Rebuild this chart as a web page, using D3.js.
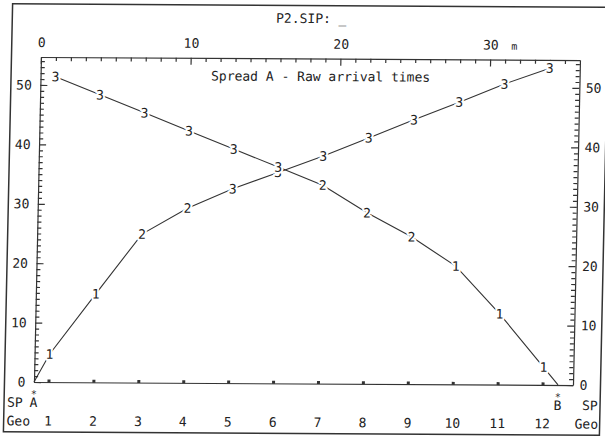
<!DOCTYPE html>
<html>
<head>
<meta charset="utf-8">
<script src="https://cdn.jsdelivr.net/npm/d3@7"></script>
<style>
body { margin:0; background:#fff; }
svg { display:block; }
text { font-family:"DejaVu Sans Mono", "Liberation Mono", monospace; font-size:13px; fill:#222; }
.axis path, .axis line { stroke:#333; stroke-width:1.2; }
.curve { fill:none; stroke:#333; stroke-width:1.1; }
.layer-label { stroke:#fff; stroke-width:4; paint-order:stroke; stroke-linejoin:round; }
</style>
</head>
<body>
<div class="sip-wrapper"></div>
<script>

const geoNumbers = [1, 2, 3, 4, 5, 6, 7, 8, 9, 10, 11, 12];
const geoOffsets = [1, 4, 7, 10, 13, 16, 19, 22, 25, 28, 31, 34];
const shotNames = ['A', 'B'];
const shotOffsets = [0, 35];

// arrival times (ms) from shot A and shot B, with the layer digit printed on each pick
const timesA = [4.7, 14.9, 25.0, 29.4, 32.7, 35.5, 38.3, 41.4, 44.5, 47.5, 50.6, 53.3];
const layersA = [1, 1, 2, 2, 3, 3, 3, 3, 3, 3, 3, 3];
const timesB = [51.4, 48.4, 45.4, 42.4, 39.4, 36.4, 33.4, 28.8, 24.8, 19.9, 11.9, 3.0];
const layersB = [3, 3, 3, 3, 3, 3, 2, 2, 2, 1, 1, 1];

const distTicks = [0, 10, 20, 30];
const timeTicks = [0, 10, 20, 30, 40, 50];

const fileTitle = 'P2.SIP: _';
const plotTitle = 'Spread A - Raw arrival times';

const width = 605;
const height = 440;

const box = {left:37.5, right:576.5, top:58.5, bottom:383.5}

const svg = d3.select('.sip-wrapper')
.append('svg')
.attr('width', width)
.attr('height', height)

// the printout was scanned slightly skewed
const chart = svg.append('g')
.attr('transform', 'matrix(1,0.0056,-0.0215,1,4.73,-1.69)')

chart.append('rect')
.attr('x', 8)
.attr('y', 5.5)
.attr('width', 596)
.attr('height', 428)
.style('fill', 'none')
.style('stroke', '#333')
.style('stroke-width', 1.5)

const xScale = d3.scaleLinear()
.domain([0, 36])
.range([box.left, box.right])

const yScale = d3.scaleLinear()
.domain([0, 54.7])
.range([box.bottom, box.top])

const topAxis = chart.append('g')
.attr('class', 'axis')
.attr('transform', `translate(0,${box.top})`)
.call(
	d3.axisTop(xScale)
	.tickValues(d3.range(0, 36))
	.tickSizeInner(-4)
	.tickSizeOuter(0)
	.tickPadding(10)
	.tickFormat(d => distTicks.includes(d) ? d : '')
	)

topAxis.selectAll('.tick line')
.attr('y2', d => distTicks.includes(d) ? 7 : 4)

const leftAxis = chart.append('g')
.attr('class', 'axis')
.attr('transform', `translate(${box.left},0)`)
.call(
	d3.axisLeft(yScale)
	.tickValues(d3.range(0, 55))
	.tickSizeInner(-4)
	.tickSizeOuter(0)
	.tickPadding(8.5)
	.tickFormat(d => timeTicks.includes(d) ? d : '')
	)

leftAxis.selectAll('.tick line')
.attr('x2', d => timeTicks.includes(d) ? 7 : 4)

const rightAxis = chart.append('g')
.attr('class', 'axis')
.attr('transform', `translate(${box.right},0)`)
.call(
	d3.axisRight(yScale)
	.tickValues(d3.range(0, 55))
	.tickSizeInner(-4)
	.tickSizeOuter(0)
	.tickPadding(6.5)
	.tickFormat(d => timeTicks.includes(d) ? d : '')
	)

rightAxis.selectAll('.tick line')
.attr('x2', d => timeTicks.includes(d) ? -7 : -4)

chart.append('g')
.attr('class', 'axis')
.attr('transform', `translate(0,${box.bottom})`)
.call(
	d3.axisBottom(xScale)
	.tickValues([])
	.tickSizeOuter(0)
	)

chart.selectAll('.axis text')
.style('font-family', '"DejaVu Sans Mono", "Liberation Mono", monospace')
.style('font-size', '13px')
.style('fill', '#222')

chart.append('text')
.attr('x', xScale(30) + 21)
.attr('y', box.top - 10)
.style('font-size', '10px')
.text('m')

chart.append('text')
.attr('x', 307)
.attr('y', 23)
.attr('text-anchor', 'middle')
.text(fileTitle)

chart.append('text')
.attr('x', 208)
.attr('y', 81)
.text(plotTitle)

// geophone markers on the zero line
chart.append('g')
.selectAll('rect')
.data(geoOffsets)
.enter()
.append('rect')
.attr('x', d => xScale(d) - 1.5)
.attr('y', yScale(0) - 2.5)
.attr('width', 3)
.attr('height', 3)
.style('fill', '#333')

const pointsA = [{d:shotOffsets[0], t:0, layer:null}]
.concat(geoOffsets.map((d, i) => ({d:d, t:timesA[i], layer:layersA[i]})))

const pointsB = geoOffsets.map((d, i) => ({d:d, t:timesB[i], layer:layersB[i]}))
.concat([{d:shotOffsets[1], t:0, layer:null}])

const line = d3.line()
.curve(d3.curveLinear)
.x(d => xScale(d.d))
.y(d => yScale(d.t))

const curves = chart.append('g')
const labels = chart.append('g')

;[pointsA, pointsB].forEach(points => {

	curves.append('path')
	.attr('class', 'curve')
	.attr('d', line(points))

	labels.selectAll(null)
	.data(points.filter(f => f.layer))
	.enter()
	.append('text')
	.attr('class', 'layer-label')
	.attr('x', d => xScale(d.d))
	.attr('y', d => yScale(d.t))
	.attr('dy', '0.36em')
	.attr('text-anchor', 'middle')
	.text(d => d.layer)
})

// shot point and geophone rows under the plot
const under = chart.append('g')

under.selectAll('.shot-star')
.data(shotOffsets)
.enter()
.append('text')
.attr('class', 'shot-star')
.attr('x', d => xScale(d))
.attr('y', 399)
.attr('text-anchor', 'middle')
.style('font-size', '10px')
.text('*')

under.selectAll('.shot-name')
.data(shotNames)
.enter()
.append('text')
.attr('class', 'shot-name')
.attr('x', (d, i) => xScale(shotOffsets[i]))
.attr('y', 408.5)
.attr('text-anchor', 'middle')
.text(d => d)

under.selectAll('.geo-num')
.data(geoNumbers)
.enter()
.append('text')
.attr('class', 'geo-num')
.attr('x', (d, i) => xScale(geoOffsets[i]))
.attr('y', 427)
.attr('text-anchor', 'middle')
.text(d => d)

under.append('text').attr('x', 11).attr('y', 408.5).text('SP')
under.append('text').attr('x', 586).attr('y', 408.5).text('SP')
under.append('text').attr('x', 11).attr('y', 427).text('Geo')
under.append('text').attr('x', 579).attr('y', 427).text('Geo')

</script>
</body>
</html>
